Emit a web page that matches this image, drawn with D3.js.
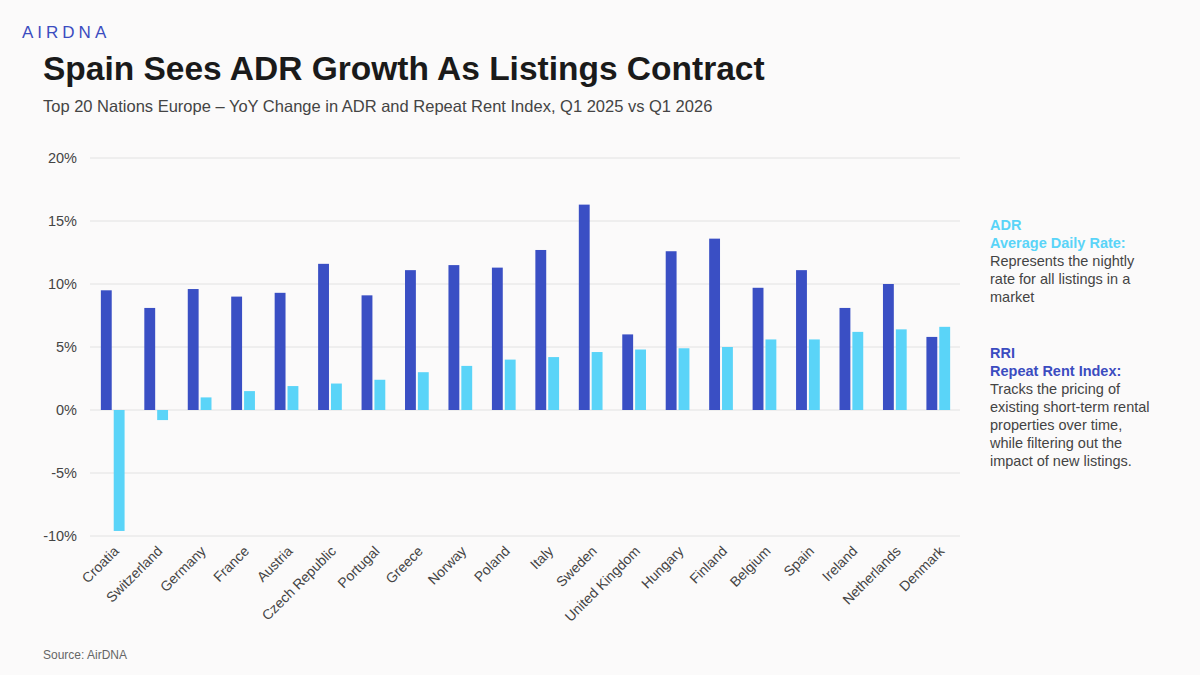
<!DOCTYPE html>
<html><head><meta charset="utf-8">
<script src="https://cdn.jsdelivr.net/npm/d3@7"></script>
<style>body{margin:0;background:#fbfafa;font-family:"Liberation Sans",Arial,sans-serif}</style>
</head><body>
<svg id="c" width="1200" height="675"></svg>
<script>
var countries = ["Croatia","Switzerland","Germany","France","Austria","Czech Republic","Portugal","Greece","Norway","Poland","Italy","Sweden","United Kingdom","Hungary","Finland","Belgium","Spain","Ireland","Netherlands","Denmark"];
var adr = [9.5,8.1,9.6,9.0,9.3,11.6,9.1,11.1,11.5,11.3,12.7,16.3,6.0,12.6,13.6,9.7,11.1,8.1,10.0,5.8];
var rri = [-9.6,-0.8,1.0,1.5,1.9,2.1,2.4,3.0,3.5,4.0,4.2,4.6,4.8,4.9,5.0,5.6,5.6,6.2,6.4,6.6];
var yTicks = [-10,-5,0,5,10,15,20];

var svg = d3.select("#c");
svg.append("rect").attr("width",1200).attr("height",675).attr("fill","#fbfafa");
svg.append("text").attr("x",22).attr("y",38).text("AIRDNA").attr("fill","#3b4cc0")
  .style("font-size","17px").style("letter-spacing","4px");
svg.append("text").attr("x",43).attr("y",80).text("Spain Sees ADR Growth As Listings Contract")
  .attr("fill","#1a1a1a").style("font-size","33.5px").style("font-weight","bold");
svg.append("text").attr("x",43).attr("y",112).text("Top 20 Nations Europe \u2013 YoY Change in ADR and Repeat Rent Index, Q1 2025 vs Q1 2026")
  .attr("fill","#444").style("font-size","16.5px");

var x = d3.scaleBand().domain(countries).range([90,959]).paddingInner(0.5).paddingOuter(0.25);
var y = d3.scaleLinear().domain([-10,20]).range([536,158]);

svg.append("g").selectAll("line").data(yTicks).join("line")
  .attr("x1",90).attr("x2",960).attr("y1",d=>y(d)).attr("y2",d=>y(d))
  .attr("stroke","#e2e2e2");
svg.append("g").selectAll("text").data(yTicks).join("text")
  .attr("x",77).attr("y",d=>y(d)+5).attr("text-anchor","end")
  .attr("fill","#444").style("font-size","14.5px").text(d=>d+"%");

var bw = x.bandwidth()/2;
svg.append("g").selectAll("rect").data(countries).join("rect")
  .attr("x",d=>x(d)).attr("width",bw)
  .attr("y",(d,i)=>y(Math.max(0,adr[i]))).attr("height",(d,i)=>Math.abs(y(adr[i])-y(0)))
  .attr("fill","#3a4fc4");
svg.append("g").selectAll("rect").data(countries).join("rect")
  .attr("x",d=>x(d)+bw+2).attr("width",bw)
  .attr("y",(d,i)=>y(Math.max(0,rri[i]))).attr("height",(d,i)=>Math.abs(y(rri[i])-y(0)))
  .attr("fill","#5ad4f8");

svg.append("g").selectAll("text").data(countries).join("text")
  .attr("transform",d=>"translate("+(x(d)+x.bandwidth()/2+8)+",552) rotate(-45)")
  .attr("text-anchor","end").attr("fill","#444").style("font-size","14px").text(d=>d);

svg.append("text").attr("x",43).attr("y",659).text("Source: AirDNA").attr("fill","#666").style("font-size","12px");

function block(y0, c, lines){
  var t = svg.append("text").attr("x",990).attr("y",y0).style("font-size","14.5px");
  lines.forEach(function(l,i){
    t.append("tspan").attr("x",990).attr("dy",i?18:0).text(l)
      .attr("fill", i<2?c:"#444").style("font-weight", i<2?"bold":"normal");
  });
}
block(230,"#5ad4f8",["ADR","Average Daily Rate:","Represents the nightly","rate for all listings in a","market"]);
block(358,"#3b4cc0",["RRI","Repeat Rent Index:","Tracks the pricing of","existing short-term rental","properties over time,","while filtering out the","impact of new listings."]);
</script>
</body></html>
